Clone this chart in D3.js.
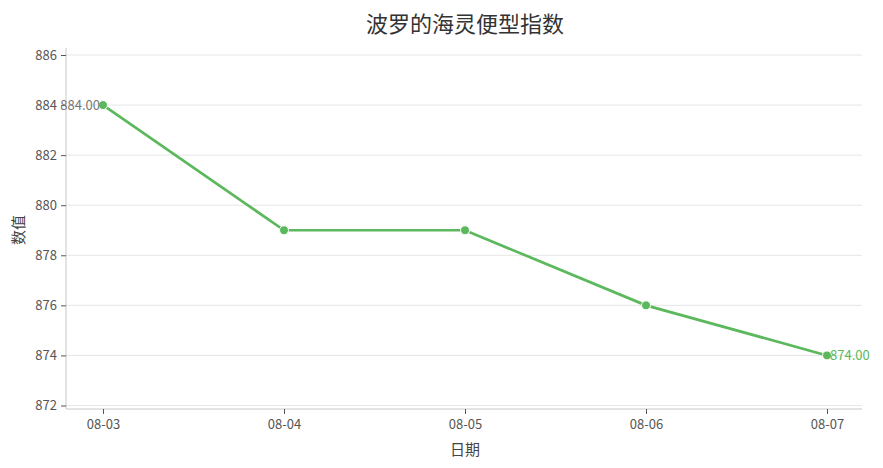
<!DOCTYPE html>
<html>
<head>
<meta charset="utf-8">
<script src="https://cdn.jsdelivr.net/npm/d3@7"></script>
<style>
  body { margin: 0; background: #fff; }
  text { font-family: "Noto Sans CJK SC", "Noto Sans", sans-serif; }
</style>
</head>
<body>
<div id="chart"></div>
<script>
// data
const dates = ["08-03", "08-04", "08-05", "08-06", "08-07"];
const values = [884, 879, 879, 876, 874];
const yTicks = [872, 874, 876, 878, 880, 882, 884, 886];

const width = 883;
const height = 468;
const lineColor = "#5cb85c";

const svg = d3.select("#chart")
  .append("svg")
  .attr("width", width)
  .attr("height", height);

// scales
const xScale = d3.scalePoint()
  .domain(dates)
  .range([103, 827]);

const yScale = d3.scaleLinear()
  .domain([872, 886])
  .range([405.5, 55]);

// grid
svg.append("g")
  .selectAll("line")
  .data(yTicks)
  .join("line")
  .attr("x1", 66)
  .attr("x2", 862)
  .attr("y1", d => yScale(d))
  .attr("y2", d => yScale(d))
  .attr("stroke", "#e6e6e6")
  .attr("stroke-width", 1);

// y axis
const yAxis = svg.append("g")
  .attr("transform", "translate(66,0)")
  .call(d3.axisLeft(yScale).tickValues(yTicks).tickSize(5).tickPadding(4).tickFormat(d3.format("d")));
yAxis.select(".domain").attr("d", "M0,48V409").attr("stroke", "#c8c8c8");
yAxis.selectAll(".tick line").attr("stroke", "#555");
yAxis.selectAll(".tick text")
  .attr("fill", "#555")
  .style("font-size", "13px");

// x axis
const xAxis = svg.append("g")
  .attr("transform", "translate(0,409)")
  .call(d3.axisBottom(xScale).tickSize(5).tickPadding(6));
xAxis.select(".domain").attr("d", "M66,0H862").attr("stroke", "#c8c8c8");
xAxis.selectAll(".tick line").attr("stroke", "#555");
xAxis.selectAll(".tick text")
  .attr("fill", "#555")
  .style("font-size", "13px");

// line
const line = d3.line()
  .x((d, i) => xScale(dates[i]))
  .y(d => yScale(d));

svg.append("path")
  .datum(values)
  .attr("d", line)
  .attr("fill", "none")
  .attr("stroke", lineColor)
  .attr("stroke-width", 2.7);

svg.append("g")
  .selectAll("circle")
  .data(values)
  .join("circle")
  .attr("cx", (d, i) => xScale(dates[i]))
  .attr("cy", d => yScale(d))
  .attr("r", 4.5)
  .attr("fill", lineColor)
  .attr("stroke", "#fff")
  .attr("stroke-width", 1);

// end labels
svg.append("text")
  .attr("x", xScale(dates[0]) - 3)
  .attr("y", yScale(values[0]))
  .attr("dy", "0.35em")
  .attr("text-anchor", "end")
  .attr("fill", "#777")
  .style("font-size", "13px")
  .text(values[0].toFixed(2));

svg.append("text")
  .attr("x", xScale(dates[4]) + 3)
  .attr("y", yScale(values[4]))
  .attr("dy", "0.35em")
  .attr("fill", lineColor)
  .style("font-size", "13px")
  .text(values[4].toFixed(2));

// title and axis labels
svg.append("text")
  .attr("x", 465)
  .attr("y", 32)
  .attr("text-anchor", "middle")
  .attr("fill", "#333")
  .style("font-size", "22px")
  .text("波罗的海灵便型指数");

svg.append("text")
  .attr("x", 465)
  .attr("y", 455)
  .attr("text-anchor", "middle")
  .attr("fill", "#444")
  .style("font-size", "15px")
  .text("日期");

svg.append("text")
  .attr("transform", "translate(24,230) rotate(-90)")
  .attr("text-anchor", "middle")
  .attr("fill", "#444")
  .style("font-size", "15px")
  .text("数值");
</script>
</body>
</html>
